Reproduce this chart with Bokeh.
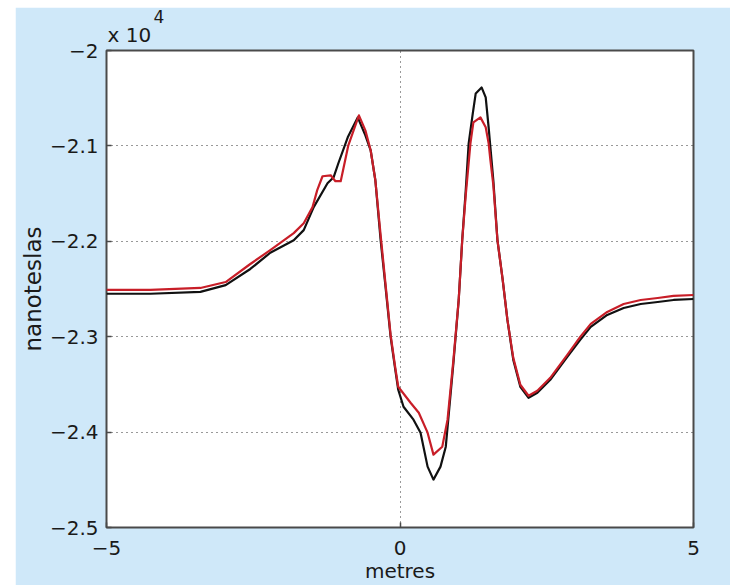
from bokeh.plotting import figure
from bokeh.models import FixedTicker, Range1d, Label
from bokeh.embed import file_html
from bokeh.resources import INLINE

# measured field (black) -- distance in metres, field in nanoteslas
x_black = [-5.0, -4.25, -3.4, -2.97, -2.55, -2.21, -1.81, -1.64, -1.47, -1.235, -1.13, -1.05,
           -0.89, -0.72, -0.59, -0.50, -0.42, -0.33, -0.25, -0.16, -0.08, -0.03, 0.06, 0.23,
           0.35, 0.47, 0.57, 0.69, 0.78, 0.91, 1.00, 1.06, 1.12, 1.17, 1.24, 1.29, 1.39, 1.46,
           1.51, 1.54, 1.59, 1.66, 1.75, 1.83, 1.93, 2.05, 2.19, 2.34, 2.56, 2.85, 3.07, 3.25,
           3.53, 3.81, 4.10, 4.39, 4.66, 5.0]
y_black = [-22550, -22550, -22530, -22460, -22290, -22120, -21990, -21883, -21642, -21391, -21328, -21182,
           -20910, -20701, -20889, -21046, -21360, -21987, -22458, -23002, -23347, -23556, -23734, -23870,
           -24006, -24362, -24498, -24362, -24153, -23274, -22615, -21987, -21464, -20973, -20659, -20450, -20387, -20492,
           -20805, -21015, -21360, -21987, -22406, -22824, -23243, -23525, -23640, -23588, -23452, -23211, -23033, -22897,
           -22772, -22699, -22657, -22636, -22615, -22605]

# model field (red)
x_red = [-5.0, -4.25, -3.4, -2.97, -2.55, -2.21, -1.81, -1.64, -1.49, -1.41, -1.32, -1.18, -1.10, -1.01,
         -0.88, -0.70, -0.59, -0.50, -0.42, -0.33, -0.25, -0.16, -0.08, -0.03, 0.18, 0.32, 0.47,
         0.57, 0.72, 0.81, 0.91, 1.00, 1.06, 1.12, 1.20, 1.25, 1.37, 1.46, 1.51, 1.54, 1.59, 1.66,
         1.75, 1.83, 1.93, 2.05, 2.19, 2.34, 2.56, 2.85, 3.07, 3.25, 3.53, 3.81, 4.10, 4.39, 4.66, 5.0]
y_red = [-22510, -22510, -22489, -22427, -22238, -22092, -21914, -21810, -21642, -21464, -21318, -21308, -21370, -21370,
         -20994, -20680, -20837, -21046, -21360, -21935, -22427, -22981, -23326, -23525, -23692, -23797, -24006,
         -24236, -24153, -23870, -23243, -22615, -21987, -21517, -20973, -20753, -20701, -20805, -20973, -21150, -21412, -21987,
         -22406, -22824, -23222, -23504, -23619, -23567, -23431, -23190, -23002, -22866,
         -22740, -22657, -22615, -22594, -22573, -22563]

x_ticks = [-5, 0, 5]
x_tick_labels = ["\u22125", "0", "5"]
y_ticks = [-25000, -24000, -23000, -22000, -21000, -20000]
y_tick_labels = ["\u22122.5", "\u22122.4", "\u22122.3", "\u22122.2", "\u22122.1", "\u22122"]
x_label = "metres"
y_label = "nanoteslas"
multiplier_text = "x 10"
multiplier_exp = "4"

x_min, x_max = -5, 5
y_min, y_max = -25000, -20000

FONT = "DejaVu Sans"
TXT = "#1a1a1a"
BG = "#cfe8f9"

p = figure(width=715, height=578, x_range=Range1d(x_min, x_max), y_range=Range1d(y_min, y_max),
           output_backend="svg", toolbar_location=None, title=None,
           min_border_left=91, min_border_right=37, min_border_top=43, min_border_bottom=57,
           background_fill_color="white", border_fill_color=BG, margin=(7, 0, 0, 15))

p.outline_line_color = "#4a4a4a"
p.outline_line_width = 2

for ax, ticks, labels in ((p.xaxis[0], x_ticks, x_tick_labels), (p.yaxis[0], y_ticks, y_tick_labels)):
    ax.ticker = FixedTicker(ticks=ticks)
    ax.major_label_overrides = dict(zip(ticks, labels))
    ax.axis_line_color = None
    ax.major_tick_in = 5
    ax.major_tick_out = 0
    ax.major_tick_line_color = "#4a4a4a"
    ax.major_tick_line_width = 1.5
    ax.minor_tick_line_color = None
    ax.major_label_text_font = FONT
    ax.major_label_text_font_size = "20px"
    ax.major_label_text_color = TXT
    ax.axis_label_text_font = FONT
    ax.axis_label_text_font_style = "normal"
    ax.axis_label_text_color = TXT

p.xaxis.axis_label = x_label
p.yaxis.axis_label = y_label
p.xaxis.axis_label_text_font_size = "20px"
p.yaxis.axis_label_text_font_size = "23px"
p.xaxis.major_label_standoff = 13
p.xaxis.axis_label_standoff = 1
p.yaxis.major_label_standoff = 8
p.yaxis.axis_label_standoff = 1

p.grid.grid_line_color = "#333333"
p.grid.grid_line_dash = "1 4"
p.grid.grid_line_width = 1

p.line(x_black, y_black, line_color="#111111", line_width=2.2, line_join="round")
p.line(x_red, y_red, line_color="#c81e28", line_width=2.2, line_join="round")

# multiplier note above the top-left corner of the axes (placed in the top panel so it is not clipped)
p.add_layout(Label(x=x_min, y=y_max, x_offset=1, y_offset=16, text=multiplier_text,
                   text_font=FONT, text_font_size="20px", text_color=TXT,
                   text_baseline="alphabetic"), "above")
p.add_layout(Label(x=x_min, y=y_max, x_offset=47, y_offset=34, text=multiplier_exp,
                   text_font=FONT, text_font_size="17px", text_color=TXT,
                   text_baseline="alphabetic"), "above")

open("out.html", "w").write(file_html(p, INLINE))
